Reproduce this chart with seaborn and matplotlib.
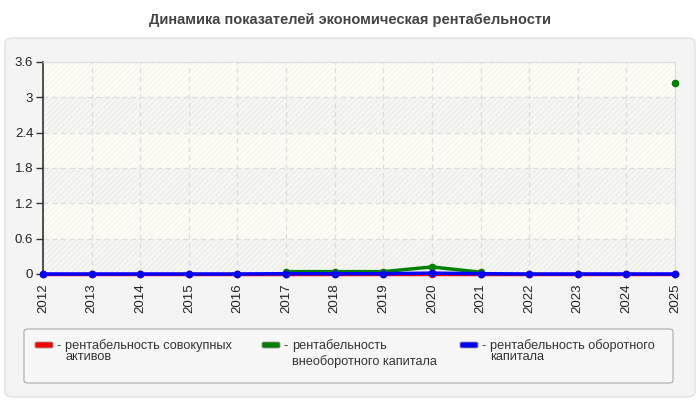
import matplotlib
matplotlib.use("Agg")
import matplotlib.pyplot as plt
from matplotlib.patches import FancyBboxPatch
import numpy as np
import pandas as pd
import seaborn as sns

years = list(range(2012, 2026))
total_assets = [0, 0, 0, 0, 0, 0, 0, 0, 0, 0, 0, 0, 0, 0]
non_current = [np.nan, np.nan, np.nan, np.nan, np.nan, 0.04, 0.04, 0.04, 0.12, 0.03,
               np.nan, np.nan, np.nan, 3.24]
current = [0, 0, 0, 0, 0, 0.005, 0.005, 0.005, 0.015, 0.005, 0, 0, 0, 0]

series_names = ["рентабельность совокупных\nактивов",
                "рентабельность\nвнеоборотного капитала",
                "рентабельность оборотного\nкапитала"]
colors = ["#ff0000", "#008000", "#0000ff"]
yticks = [0, 0.6, 1.2, 1.8, 2.4, 3, 3.6]

# long table, split each series into contiguous runs so gaps stay gaps
rows = []
for name, vals in zip(series_names, [total_assets, non_current, current]):
    seg = 0
    prev_nan = True
    for y, v in zip(years, vals):
        if np.isnan(v):
            prev_nan = True
            continue
        if prev_nan:
            seg += 1
        prev_nan = False
        rows.append({"year": y, "value": v, "series": name, "seg": f"{name}_{seg}"})
df = pd.DataFrame(rows)

sns.set_style("white")
plt.rcParams['font.family'] = ['Liberation Sans', 'DejaVu Sans']
plt.rcParams['hatch.linewidth'] = 0.5

W, H = 700, 400
fig = plt.figure(figsize=(7, 4), dpi=100)
fig.patch.set_facecolor("white")


def fx(px):
    return px / W


def fy(py):
    return 1 - py / H


# outer rounded panel
panel = FancyBboxPatch((fx(5), fy(397)), fx(690), 359 / H,
                       boxstyle="round,pad=0,rounding_size=0.012",
                       transform=fig.transFigure, facecolor="#f4f4f4",
                       edgecolor="#e2e2e2", linewidth=1, zorder=-10)
fig.patches.append(panel)

fig.text(0.5, fy(20), "Динамика показателей экономическая рентабельности",
         ha="center", va="center", fontsize=10.5, fontweight="bold", color="#444444")

ax = fig.add_axes([fx(43), fy(274), fx(632), 212 / H])
ax.set_facecolor("#fdfdf5")

# alternating hatched bands
for i in range(len(yticks) - 1):
    if i % 2 == 0:
        ax.axhspan(yticks[i], yticks[i + 1], facecolor="#f6f6f2", edgecolor="#e6e6e6",
                   hatch="//////", linewidth=0, zorder=0)
    else:
        ax.axhspan(yticks[i], yticks[i + 1], facecolor="#fdfdf5", edgecolor="#f0f0e8",
                   hatch="//////", linewidth=0, zorder=0)

sns.lineplot(data=df, x="year", y="value", hue="series", units="seg", estimator=None,
             hue_order=series_names, palette=colors, marker="o", markersize=5.5,
             markeredgewidth=0, linewidth=2.5, legend=False, ax=ax, zorder=3)
for line in ax.lines:
    line.set_clip_on(False)

ax.set_xlim(2012, 2025)
ax.set_ylim(0, 3.6)
ax.set_xticks(years)
ax.set_xticklabels([str(y) for y in years], rotation=90, fontsize=9.5, color="#222222")
ax.set_yticks(yticks)
ax.set_yticklabels(["0", "0.6", "1.2", "1.8", "2.4", "3", "3.6"], fontsize=9.5, color="#222222")
ax.set_xlabel("")
ax.set_ylabel("")
ax.grid(True, linestyle=(0, (4, 3)), color="#dddddd", linewidth=0.9)
ax.set_axisbelow(True)
ax.tick_params(axis="y", which="both", left=True, length=5, width=1, color="#333333", pad=2)
ax.tick_params(axis="x", which="both", bottom=False, pad=3)
for side in ["top", "right", "bottom"]:
    ax.spines[side].set_color("#dddddd")
ax.spines["left"].set_color("#333333")
ax.spines["left"].set_linewidth(1.2)

# legend: rounded box, colour chips and wrapped labels
legend_box = FancyBboxPatch((fx(24), fy(383)), fx(649), 54 / H,
                            boxstyle="round,pad=0,rounding_size=0.006",
                            transform=fig.transFigure, facecolor="#f7f7f7",
                            edgecolor="#aaaaaa", linewidth=0.8, zorder=-5)
fig.patches.append(legend_box)

chip_x = [35, 262, 460]
second_line_y = [357, 362, 357]
for name, c, x, y2 in zip(series_names, colors, chip_x, second_line_y):
    chip = FancyBboxPatch((fx(x), fy(348)), fx(18), 6 / H,
                          boxstyle="round,pad=0,rounding_size=0.003",
                          transform=fig.transFigure, facecolor=c,
                          edgecolor="#999999", linewidth=0.6)
    fig.patches.append(chip)
    first, second = name.split("\n")
    fig.text(fx(x + 21), fy(346), "-", ha="left", va="center", fontsize=9.2, color="#333333")
    fig.text(fx(x + 30), fy(346), first, ha="left", va="center", fontsize=9.2, color="#333333")
    fig.text(fx(x + 30), fy(y2), second, ha="left", va="center", fontsize=9.2, color="#333333")

fig.savefig("out.png", dpi=100)
